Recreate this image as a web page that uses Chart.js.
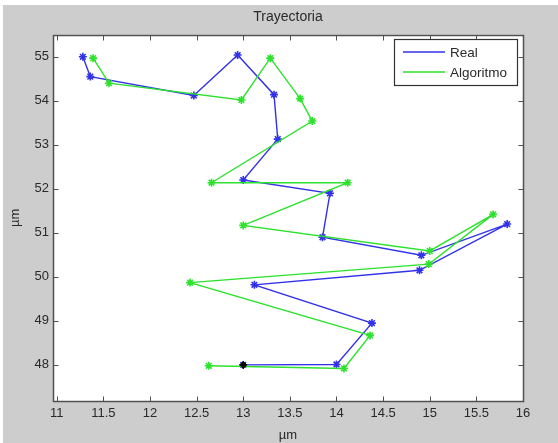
<!DOCTYPE html>
<html>
<head>
<meta charset="utf-8">
<script src="https://cdn.jsdelivr.net/npm/chart.js@4/dist/chart.umd.min.js"></script>
<style>
  body { margin: 0; background: #fff; }
  canvas { display: block; }
</style>
</head>
<body>
<canvas id="traj" width="558" height="443"></canvas>
<script>
// trajectory points (µm)
const realX = [13.0, 14.0, 14.38, 13.12, 14.89, 15.83, 14.91, 13.85, 13.93, 13.0, 13.37, 13.33, 12.94, 12.47, 11.36, 11.28];
const realY = [48.0, 48.01, 48.95, 49.82, 50.15, 51.2, 50.49, 50.9, 51.9, 52.2, 53.13, 54.14, 55.04, 54.12, 54.55, 55.0];
const algoX = [12.63, 14.08, 14.36, 12.43, 14.99, 15.68, 15.0, 13.0, 14.12, 12.66, 13.74, 13.61, 13.29, 12.98, 11.56, 11.39];
const algoY = [47.98, 47.92, 48.67, 49.87, 50.29, 51.42, 50.59, 51.17, 52.14, 52.14, 53.54, 54.05, 54.97, 54.02, 54.4, 54.97];
const startX = [13.0];
const startY = [48.0];

const xTicks = [11, 11.5, 12, 12.5, 13, 13.5, 14, 14.5, 15, 15.5, 16];
const yTicks = [48, 49, 50, 51, 52, 53, 54, 55];
const seriesNames = ['Real', 'Algoritmo'];

const BLUE = 'rgb(50,50,232)';
const GREEN = 'rgb(45,226,45)';
const AXIS = '#505050';
const TEXT = '#2a2a2a';
const FONT = 'Liberation Sans, Arial, sans-serif';

const toPts = (xs, ys) => xs.map((x, i) => ({x: x, y: ys[i]}));

// grey figure, white axes box, inward ticks on all four sides, legend inside
const matlabFrame = {
    id: 'matlabFrame',
    beforeDraw(chart) {
        const {ctx, chartArea: a} = chart;
        ctx.save();
        ctx.fillStyle = '#fff';
        ctx.fillRect(0, 0, chart.width, chart.height);
        ctx.fillStyle = '#cdcdcd';
        ctx.fillRect(3, 5, chart.width, chart.height);
        ctx.fillStyle = '#fff';
        ctx.fillRect(a.left, a.top, a.width, a.height);
        ctx.restore();
    },
    afterDraw(chart) {
        const {ctx, chartArea: a, scales} = chart;
        const L = Math.round(a.left) + 0.5, R = Math.round(a.right) + 0.5;
        const T = Math.round(a.top) + 0.5, B = Math.round(a.bottom) + 0.5;
        ctx.save();
        ctx.strokeStyle = AXIS;
        ctx.lineWidth = 1.5;
        ctx.strokeRect(L, T, R - L, B - T);
        ctx.lineWidth = 1;
        ctx.beginPath();
        xTicks.forEach(v => {
            const px = Math.round(scales.x.getPixelForValue(v)) + 0.5;
            ctx.moveTo(px, B); ctx.lineTo(px, B - 5);
            ctx.moveTo(px, T); ctx.lineTo(px, T + 5);
        });
        yTicks.forEach(v => {
            const py = Math.round(scales.y.getPixelForValue(v)) + 0.5;
            ctx.moveTo(L, py); ctx.lineTo(L + 5, py);
            ctx.moveTo(R, py); ctx.lineTo(R - 5, py);
        });
        ctx.stroke();

        // legend box
        const bx = 394.5, by = 39.5, bw = 123, bh = 46;
        ctx.fillStyle = '#fff';
        ctx.fillRect(bx, by, bw, bh);
        ctx.strokeStyle = '#333';
        ctx.lineWidth = 1.2;
        ctx.strokeRect(bx, by, bw, bh);
        ctx.font = '13.5px ' + FONT;
        ctx.textBaseline = 'middle';
        ctx.fillStyle = TEXT;
        seriesNames.forEach((name, i) => {
            const ly = 52 + i * 20;
            ctx.strokeStyle = chart.data.datasets[i].borderColor;
            ctx.lineWidth = 1.5;
            ctx.beginPath();
            ctx.moveTo(403, ly); ctx.lineTo(445, ly);
            ctx.stroke();
            ctx.fillText(name, 450, ly + 1);
        });
        ctx.restore();
    }
};

new Chart(document.getElementById('traj'), {
    type: 'scatter',
    data: {
        datasets: [{
            label: seriesNames[0],
            data: toPts(realX, realY),
            showLine: true,
            borderColor: BLUE,
            backgroundColor: BLUE,
            borderWidth: 1.4,
            pointStyle: 'star',
            pointRadius: 4,
            pointBorderWidth: 1.6,
            order: 2
        }, {
            label: seriesNames[1],
            data: toPts(algoX, algoY),
            showLine: true,
            borderColor: GREEN,
            backgroundColor: GREEN,
            borderWidth: 1.4,
            pointStyle: 'star',
            pointRadius: 4,
            pointBorderWidth: 1.6,
            order: 1
        }, {
            label: 'inicio',
            data: toPts(startX, startY),
            showLine: false,
            borderColor: '#000',
            backgroundColor: '#000',
            pointStyle: 'rectRot',
            pointRadius: 3.5,
            order: 0
        }]
    },
    options: {
        responsive: false,
        animation: false,
        devicePixelRatio: 1,
        layout: { padding: { left: 0, right: 35, top: 0, bottom: 0 } },
        plugins: {
            legend: { display: false },
            tooltip: { enabled: false },
            title: {
                display: true,
                text: 'Trayectoria',
                fullSize: false,
                color: TEXT,
                font: { family: FONT, size: 14, weight: 'normal' },
                padding: { top: 9, bottom: 9 }
            }
        },
        scales: {
            x: {
                type: 'linear',
                min: 10.96,
                max: 16,
                grid: { display: false, drawTicks: false },
                border: { display: false },
                afterBuildTicks: s => { s.ticks = xTicks.map(v => ({value: v})); },
                afterFit: s => { s.height = 42; },
                ticks: {
                    padding: 5,
                    color: TEXT,
                    font: { family: FONT, size: 13 },
                    callback: v => String(v)
                },
                title: {
                    display: true,
                    text: 'µm',
                    color: TEXT,
                    font: { family: FONT, size: 13 },
                    padding: { top: 4, bottom: 0 }
                }
            },
            y: {
                type: 'linear',
                min: 47.18,
                max: 55.5,
                grid: { display: false, drawTicks: false },
                border: { display: false },
                afterBuildTicks: s => { s.ticks = yTicks.map(v => ({value: v})); },
                afterFit: s => { s.width = 53; },
                ticks: {
                    padding: 4,
                    color: TEXT,
                    font: { family: FONT, size: 13 },
                    callback: v => String(v)
                },
                title: {
                    display: true,
                    text: 'µm',
                    color: TEXT,
                    font: { family: FONT, size: 13 },
                    padding: { top: 8, bottom: 0 }
                }
            }
        }
    },
    plugins: [matlabFrame]
});
</script>
</body>
</html>
